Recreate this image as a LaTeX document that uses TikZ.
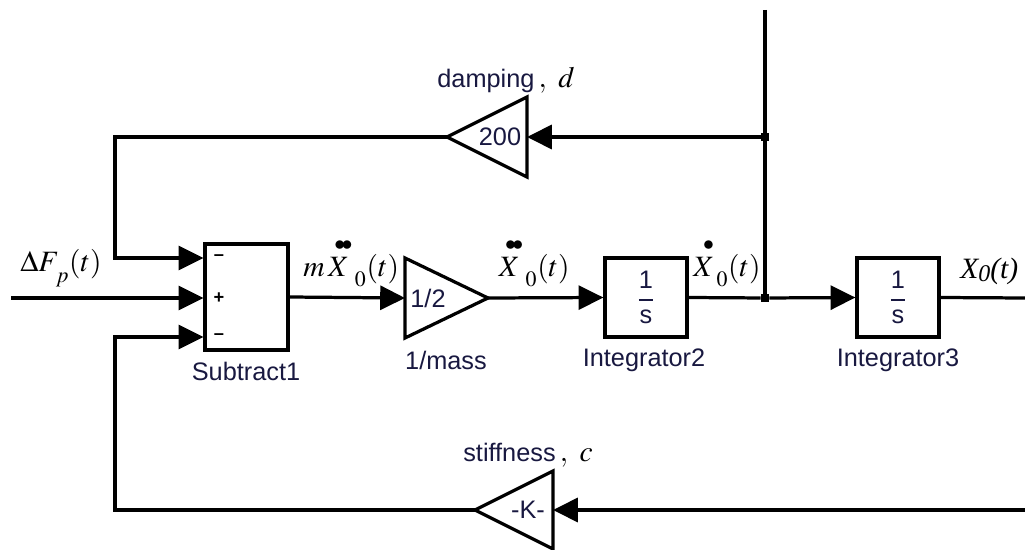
\documentclass[tikz,border=0pt]{standalone}
\usepackage{amsmath}
\usepackage{mathptmx}
\usepackage{fontspec}
\setmainfont{Liberation Serif}
\setsansfont{Liberation Sans}
\usetikzlibrary{arrows.meta,calc}
\definecolor{slink}{RGB}{24,24,64}
\newcommand{\mathlbl}{\fontsize{21}{24}\selectfont}
\newcommand{\intfrac}{$\genfrac{}{}{1.4pt}{0}{\textsf{1}}{\textsf{s}}$}
\newcommand{\hdot}[2]{{\overset{\mkern8mu #1}{#2}}}
\newcommand{\lowsub}[1]{_{\raisebox{-4pt}{$\scriptstyle\,#1$}}}
\tikzset{sig/.style={line width=2.3pt,-{Triangle[length=6.2mm,width=6mm]}},
  wire/.style={line width=2.3pt},
  blk/.style={draw, line width=2.3pt, inner sep=0pt, font=\sffamily\fontsize{18}{20}\selectfont, text=slink},
  gain/.style={draw, line width=2.3pt, line join=miter},
  blab/.style={font=\sffamily\fontsize{18}{20}\selectfont, text=slink, inner sep=0pt},
  sgn/.style={font=\sffamily\bfseries\fontsize{13}{13}\selectfont, inner sep=0pt},
  jdot/.style={fill, rectangle, inner sep=0pt, minimum size=2mm},
  lbl/.style={font=\mathlbl, inner sep=0pt, anchor=base}}

\begin{document}
\begin{tikzpicture}[x=0.025cm, y=-0.025cm]
  \useasboundingbox (0,0) rectangle (1025,550);
  % blocks
  \node[blk, minimum width=2.075cm, minimum height=2.65cm] (sub) at (246.5,297) {};
  \node[blk, minimum width=2.05cm, minimum height=1.98cm] (int2) at (646,297.5) {\intfrac};
  \node[blk, minimum width=2.05cm, minimum height=1.98cm] (int3) at (898,297.5) {\intfrac};
  \coordinate (sub-in1) at ($(sub.west)+(0,-39)$);
  \coordinate (sub-in2) at ($(sub.west)+(0,1)$);
  \coordinate (sub-in3) at ($(sub.west)+(0,40)$);
  \node[sgn] (sg1) at (219,258) {--};
  \node[sgn] (sg2) at (219,298) {+};
  \node[sgn] (sg3) at (219,337) {--};
  % gains
  \coordinate (mass-in) at (405,298);
  \coordinate (mass-out) at (488,298);
  \draw[gain] (405,258) -- (mass-out) -- (405,338) -- cycle;
  \node[blab] (kmass) at (428,298) {1/2};
  \coordinate (damp-in) at (527,137);
  \coordinate (damp-out) at (447,137);
  \draw[gain] (527,97) -- (damp-out) -- (527,177) -- cycle;
  \node[blab] (kdamp) at (500,137) {200};
  \coordinate (stif-in) at (553,510);
  \coordinate (stif-out) at (475,510);
  \draw[gain] (553,471) -- (stif-out) -- (553,549) -- cycle;
  \node[blab] (kstif) at (528,510) {-K-};
  % captions
  \node[blab] (csub) at (246,371) {Subtract1};
  \node[blab] (cmass) at (446,360) {1/mass};
  \node[blab] (cint2) at (644,360) {Integrator2};
  \node[blab] (cint3) at (898,360) {Integrator3};
  \node[blab] (cdamp) at (506,80) {damping\,{\color{black}\mathlbl$,\ d$}};
  \node[blab] (cstif) at (528,455) {stiffness\,{\color{black}\mathlbl$,\ c$}};
  % signal labels
  \node[lbl, anchor=base west] (lF) at (20,272) {$\Delta F\lowsub{p}(t)$};
  \node[lbl, anchor=base west] (lmX) at (303,276) {$m\hdot{\bullet\mkern-3mu\bullet}{X}\lowsub{0}(t)$};
  \node[lbl, anchor=base west] (lXdd) at (495,276) {$\hdot{\bullet\mkern-3mu\bullet}{X}\lowsub{0}(t)$};
  \node[lbl, anchor=base west] (lXd) at (693,276) {$\hdot{\bullet}{X}\lowsub{0}(t)$};
  \node[lbl, anchor=base west] (lX) at (960,279) {\itshape X\raisebox{-1.5pt}{\fontsize{17}{18}\selectfont 0}(t)};
  % junctions
  \node[jdot] (jv) at (765,298) {};
  \node[jdot] (jd) at (765,137) {};
  \coordinate (vtop) at (765,10);
  \coordinate (fin) at (11,298);
  \coordinate (xout) at (1025,298);
  \coordinate (xfb) at (1025,510);
  \coordinate (fbd) at (115,258);
  \coordinate (fbc) at (115,337);
  % forward path
  \draw[sig] (fin) -- (sub-in2);
  \draw[sig] (sub.east) -- (mass-in);
  \draw[sig] (mass-out) -- (int2.west);
  \draw[wire] (int2.east) -- (jv);
  \draw[sig] (jv) -- (int3.west);
  \draw[wire] (int3.east) -- (xout);
  % feedback
  \draw[wire] (vtop) -- (jd) -- (jv);
  \draw[sig] (jd) -- (damp-in);
  \draw[sig] (damp-out) -| (fbd) -- (sub-in1);
  \draw[sig] (xfb) -- (stif-in);
  \draw[sig] (stif-out) -| (fbc) -- (sub-in3);
\end{tikzpicture}
\end{document}
